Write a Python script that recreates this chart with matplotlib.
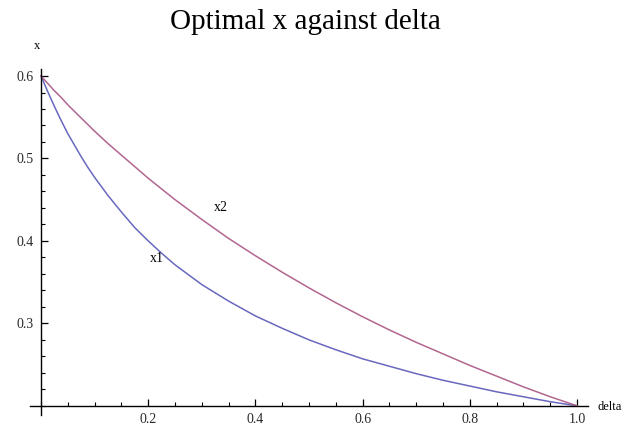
import matplotlib.pyplot as plt
from matplotlib.ticker import MultipleLocator, FormatStrFormatter

# -----------------------
# Data
# -----------------------
delta = [0, 0.0125, 0.025, 0.0375, 0.05, 0.0625, 0.075, 0.0875, 0.1, 0.125,
         0.15, 0.175, 0.2, 0.225, 0.25, 0.275, 0.3, 0.35, 0.4, 0.45,
         0.5, 0.55, 0.6, 0.65, 0.7, 0.75, 0.8, 0.85, 0.9, 0.95, 1.0]
x1 = [0.600, 0.581, 0.563, 0.546, 0.530, 0.516, 0.502, 0.489, 0.477, 0.455,
      0.435, 0.416, 0.400, 0.385, 0.371, 0.359, 0.347, 0.327, 0.309, 0.294,
      0.280, 0.268, 0.257, 0.248, 0.239, 0.231, 0.224, 0.217, 0.211, 0.205,
      0.200]
x2 = [0.600, 0.591, 0.582, 0.574, 0.565, 0.557, 0.549, 0.541, 0.533, 0.518,
      0.504, 0.490, 0.476, 0.463, 0.450, 0.438, 0.426, 0.403, 0.382, 0.362,
      0.343, 0.325, 0.308, 0.292, 0.277, 0.263, 0.249, 0.236, 0.223, 0.211,
      0.200]

x_ticks = [0.2, 0.4, 0.6, 0.8, 1.0]
y_ticks = [0.3, 0.4, 0.5, 0.6]

BLUE = "#6868bf"
MAGENTA = "#b2668f"
TEXT = "#2a2a2a"

plt.rcParams["font.family"] = ["Liberation Serif", "DejaVu Serif"]

# -----------------------
# Plot
# -----------------------
fig = plt.figure(figsize=(6.32, 4.34), dpi=100)
ax = fig.add_axes([0.048, 0.044, 0.882, 0.797])

ax.plot(delta, x1, color=BLUE, lw=1.1)
ax.plot(delta, x2, color=MAGENTA, lw=1.1)

ax.set_xlim(-0.02, 1.02)
ax.set_ylim(0.189, 0.6085)

# Mathematica-style axes crossing at (0, 0.2)
ax.spines["left"].set_position(("data", 0))
ax.spines["bottom"].set_position(("data", 0.2))
ax.spines["top"].set_visible(False)
ax.spines["right"].set_visible(False)
for s in ("left", "bottom"):
    ax.spines[s].set_linewidth(1.0)

ax.set_xticks(x_ticks)
ax.set_yticks(y_ticks)
ax.xaxis.set_minor_locator(MultipleLocator(0.05))
ax.yaxis.set_minor_locator(MultipleLocator(0.02))
ax.xaxis.set_major_formatter(FormatStrFormatter("%.1f"))
ax.yaxis.set_major_formatter(FormatStrFormatter("%.1f"))

ax.tick_params(which="major", direction="in", length=5, width=0.9,
               labelsize=10, labelcolor=TEXT, pad=5)
ax.tick_params(which="minor", direction="in", length=3, width=0.8)

# curve labels
ax.text(0.216, 0.379, "x1", fontsize=10, ha="center", va="center", color="black")
ax.text(0.336, 0.441, "x2", fontsize=10, ha="center", va="center", color="black")

# axis labels at the ends of the axes
fig.text(37 / 632, 1 - 46 / 434, "x", fontsize=9, ha="center", va="center")
fig.text(598 / 632, 1 - 407 / 434, "delta", fontsize=9, ha="left", va="center")

fig.text(305 / 632, 1 - 29 / 434, "Optimal x against delta", fontsize=21,
         ha="center", va="baseline")

fig.savefig("out.png", dpi=100)
